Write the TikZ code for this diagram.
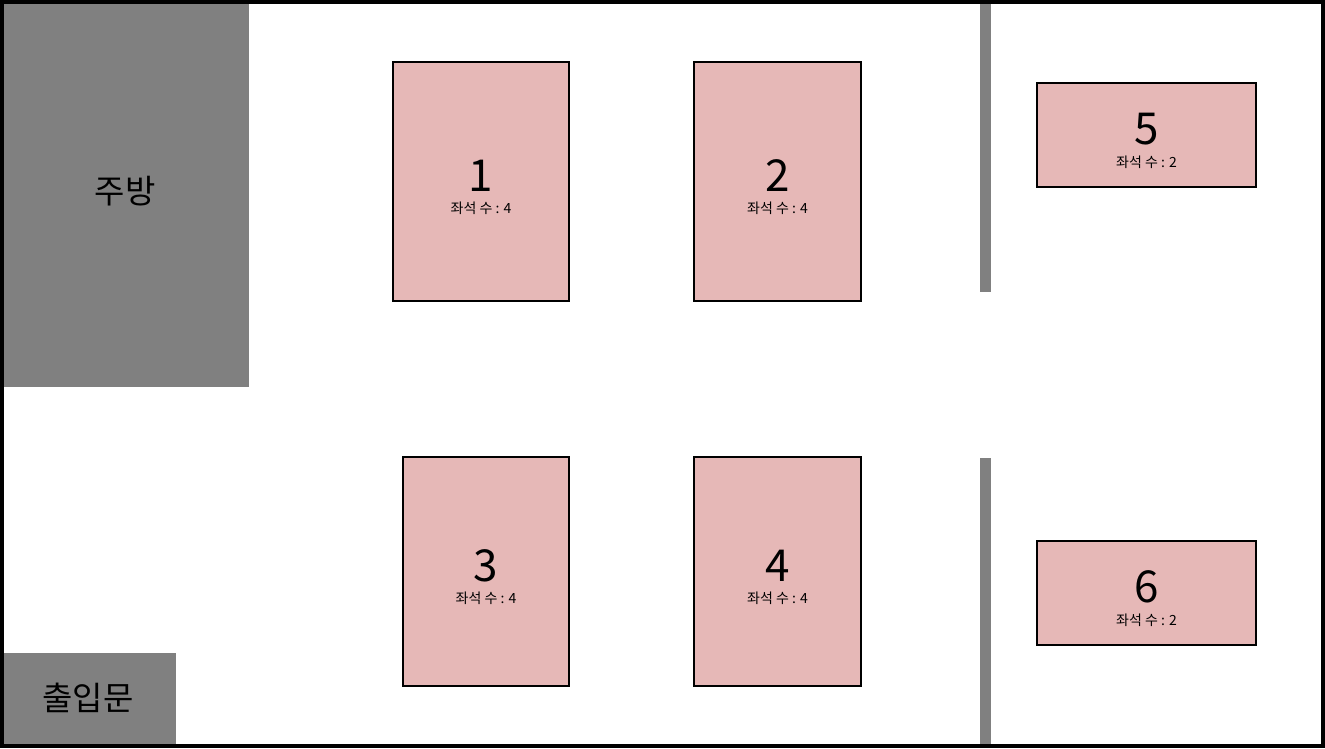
\documentclass[tikz,border=0pt]{standalone}
\usepackage{fontspec}
\setmainfont{Noto Sans CJK KR}
\definecolor{blockgray}{RGB}{128,128,128}
\definecolor{tablepink}{RGB}{230,184,183}
\tikzset{
  x=1pt,y=-1pt,
  block/.style={fill=blockgray,draw=none,inner sep=0pt,outer sep=0pt,font=\fontsize{33}{36}\selectfont},
  tablebox/.style={fill=tablepink,draw=black,line width=1.6pt,inner sep=0pt,outer sep=0pt},
  numlabel/.style={inner sep=0pt,font=\fontsize{44}{48}\selectfont},
  seatlabel/.style={inner sep=0pt,font=\fontsize{14}{16}\selectfont},
}
\newcommand{\tablecell}[7]{% name, x1,y1,x2,y2, number, seats
  \node[tablebox,minimum width={#4-#2},minimum height={#5-#3},anchor=north west] (#1) at (#2,#3) {};
  \node[numlabel] (#1num) at ({(#2+#4)/2},{(#3+#5)/2-6}) {#6};
  \node[seatlabel] (#1seat) at ({(#2+#4)/2},{(#3+#5)/2+27}) {좌석 수 : #7};
}
\begin{document}
\begin{tikzpicture}
\useasboundingbox (0,0) rectangle (1325,748);
\fill[white] (0,0) rectangle (1325,748);
\node[block,minimum width=245,minimum height=384,anchor=north west] (kitchen) at (4,3) {};
\node[inner sep=0pt,font=\fontsize{33}{36}\selectfont] (kitchenlabel) at (125,191) {주방};
\node[block,minimum width=172,minimum height=94,anchor=north west] (door) at (4,653) {};
\node[inner sep=0pt,font=\fontsize{33}{36}\selectfont] (doorlabel) at (88,698) {출입문};
\node[block,minimum width=11,minimum height=289,anchor=north west] (walltop) at (980,3) {};
\node[block,minimum width=11,minimum height=288,anchor=north west] (wallbottom) at (980,458) {};
\tablecell{t1}{393}{62}{569}{301}{1}{4}
\tablecell{t2}{694}{62}{861}{301}{2}{4}
\tablecell{t3}{403}{457}{569}{686}{3}{4}
\tablecell{t4}{694}{457}{861}{686}{4}{4}
\tablecell{t5}{1037}{83}{1256}{187}{5}{2}
\tablecell{t6}{1037}{541}{1256}{645}{6}{2}
\draw[black,line width=4pt] (2,2) rectangle (1323,746);
\end{tikzpicture}
\end{document}
